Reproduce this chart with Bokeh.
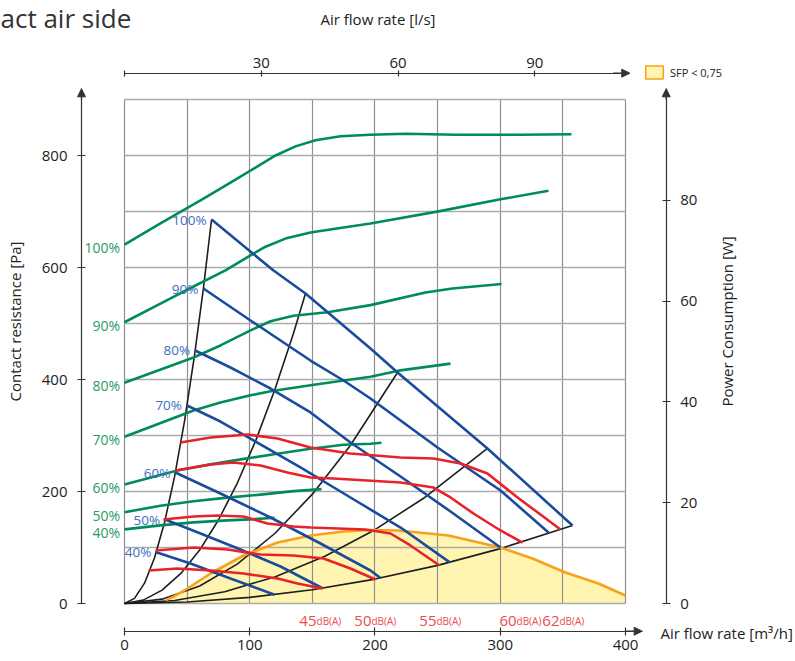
import math
from bokeh.plotting import figure
from bokeh.models import (Range1d, LinearAxis, FixedTicker, Grid, Label, Arrow,
                          NormalHead, Legend, LegendItem)
from bokeh.core.properties import value
from bokeh.embed import file_html
from bokeh.resources import INLINE

# ---------------- data ----------------
airflow_ticks = [0, 100, 200, 300, 400]          # m3/h
airflow_lps_ticks = [0, 30, 60, 90]              # l/s
pressure_ticks = [0, 200, 400, 600, 800]         # Pa
power_ticks = [0, 20, 40, 60, 80]                # W
grid_airflow = [0, 50, 100, 150, 200, 250, 300, 350, 400]
grid_pressure = [0, 100, 200, 300, 400, 500, 600, 700, 800, 900]

speed_labels = ["100%", "90%", "80%", "70%", "60%", "50%", "40%"]

# fan curves (blue): airflow [m3/h] / contact resistance [Pa]
fan100_q = [69.5, 119.0, 144.5, 196.4, 218.0, 289.8, 357.7]
fan100_p = [685.7, 594.6, 553.6, 455.4, 412.5, 276.8, 139.3]
fan90_q = [63.0, 100.6, 122.2, 148.5, 174.9, 196.4, 249.9, 300.2, 338.5]
fan90_p = [562.5, 505.4, 473.2, 433.9, 398.2, 366.1, 278.6, 201.8, 126.8]
fan80_q = [56.4, 84.6, 116.6, 148.5, 180.4, 220.4, 260.3, 300.2]
fan80_p = [451.8, 421.4, 383.9, 341.1, 287.5, 226.8, 164.3, 100.0]
fan70_q = [49.9, 76.6, 103.0, 140.5, 180.4, 220.4, 259.7]
fan70_p = [353.6, 325.0, 291.1, 242.9, 189.3, 135.7, 73.4]
fan60_q = [40.6, 76.6, 116.6, 156.5, 196.4, 204.4]
fan60_p = [233.9, 196.4, 153.6, 107.1, 58.9, 45.5]
fan50_q = [32.5, 60.7, 92.6, 124.6, 158.1]
fan50_p = [150.0, 125.0, 96.4, 66.1, 27.2]
fan40_q = [25.4, 52.7, 84.6, 119.8]
fan40_p = [91.6, 71.4, 44.6, 15.6]

# power consumption curves (green): airflow [m3/h] / power [W]
pow100_q = [0, 28.7, 60.7, 84.6, 104.6, 120.6, 136.5, 152.5, 172.5, 196.4, 224.4, 264.3, 316.2, 356.9]
pow100_w = [71.2, 75.4, 80.0, 83.5, 86.5, 88.9, 90.7, 91.9, 92.7, 93.0, 93.2, 93.0, 93.0, 93.1]
pow90_q = [0, 28.7, 55.1, 80.6, 96.6, 112.6, 128.5, 148.5, 174.9, 196.4, 250.7, 300.2, 338.5]
pow90_w = [55.8, 59.5, 62.9, 66.1, 68.5, 70.8, 72.4, 73.6, 74.6, 75.4, 77.8, 80.2, 81.9]
pow80_q = [0, 55.1, 76.6, 100.6, 116.6, 134.9, 162.0, 196.4, 240.3, 261.8, 301.0]
pow80_w = [43.8, 48.8, 51.2, 54.2, 56.0, 57.1, 57.8, 59.2, 61.7, 62.5, 63.4]
pow70_q = [0, 55.1, 76.6, 100.6, 116.6, 148.5, 196.4, 218.8, 260.3]
pow70_w = [33.1, 38.3, 39.9, 41.3, 42.1, 43.3, 45.0, 46.2, 47.6]
pow60_q = [0, 42.1, 68.7, 95.3, 121.9, 148.5, 174.9, 196.4, 205.2]
pow60_w = [23.6, 26.4, 27.6, 28.7, 29.7, 30.7, 31.5, 31.7, 31.9]
pow50_q = [0, 28.7, 55.1, 82.2, 108.6, 135.2, 157.3]
pow50_w = [18.1, 19.4, 20.3, 21.0, 21.6, 22.3, 22.7]
pow40_q = [0, 28.7, 55.1, 82.2, 100.6, 119.8]
pow40_w = [14.7, 15.5, 16.1, 16.5, 16.7, 17.0]

# system curves (black): airflow [m3/h] / pressure [Pa]
sysA_q = [0, 8, 16, 24, 32, 40, 48, 56, 63, 69.5]
sysA_p = [0, 9.1, 36.3, 81.7, 145.2, 226.9, 326.7, 444.7, 562.8, 685.7]
sysB_q = [0, 15, 30, 45, 60, 75, 90, 105, 120, 135, 144.5]
sysB_p = [0, 6.0, 23.9, 53.7, 95.4, 149.1, 214.7, 292.2, 381.7, 483.1, 553.6]
sysC_q = [0, 30, 60, 90, 120, 150, 180, 218.0]
sysC_p = [0, 7.8, 31.2, 70.3, 125.0, 195.3, 281.2, 412.5]
sysD_q = [0, 40, 80, 120, 160, 200, 240, 289.8]
sysD_p = [0, 5.3, 21.1, 47.5, 84.4, 131.8, 189.8, 276.8]
sysE_q = [0, 50, 100, 150, 200, 250, 300, 357.7]
sysE_p = [0, 2.7, 10.9, 24.5, 43.6, 68.1, 98.0, 139.3]

# sound level curves (red): airflow [m3/h] / pressure [Pa]
sound_levels = ["62", "60", "55", "50", "45"]
snd62_q = [44.7, 68.7, 98.2, 122.2, 148.5, 180.4, 220.4, 246.7, 268.3, 289.8, 313.8, 332.1, 348.1]
snd62_p = [287.5, 296.4, 301.8, 294.6, 278.6, 267.9, 260.7, 258.9, 250.0, 232.1, 189.3, 158.9, 132.1]
snd60_q = [40.7, 68.7, 87.0, 108.6, 130.1, 148.5, 166.9, 220.4, 246.7, 260.3, 278.6, 300.2, 317.8]
snd60_p = [237.5, 248.2, 251.8, 246.4, 233.9, 225.0, 223.2, 216.1, 207.1, 189.3, 160.7, 130.4, 108.9]
snd55_q = [31.1, 55.1, 74.3, 95.0, 114.2, 134.9, 148.5, 192.4, 212.4, 228.3, 251.5]
snd55_p = [150.0, 155.4, 157.1, 155.4, 142.9, 137.5, 135.7, 132.1, 125.0, 103.6, 67.9]
snd50_q = [24.8, 55.1, 82.2, 108.6, 134.9, 158.9, 180.4, 200.4]
snd50_p = [94.6, 100.0, 96.4, 87.5, 85.7, 80.4, 62.5, 42.9]
snd45_q = [19.2, 42.3, 68.7, 95.0, 122.2, 138.1, 158.1]
snd45_p = [58.9, 62.5, 58.9, 53.6, 44.6, 35.7, 26.8]

# SFP < 0,75 limit (orange / yellow area)
sfp_q = [33.0, 40.0, 50.3, 68.7, 95.0, 122.2, 148.5, 174.9, 196.4, 218.8, 258.7, 300.2, 325.7, 352.1, 378.4, 400.0]
sfp_p = [6.0, 13.0, 26.8, 53.6, 85.7, 108.9, 121.4, 128.6, 131.3, 130.4, 121.4, 100.0, 80.4, 55.4, 35.7, 14.3]

LPS_PER_M3H = 3.64   # scale of the l/s axis as drawn
PA_PER_W = 9.0       # 900 Pa on the left axis = 100 W on the right axis

# ---------------- styling ----------------
FONT = "Open Sans"
GREEN, GREEN_TXT = "#008c5a", "#2a9a63"
BLUE, BLUE_TXT = "#1a4c9c", "#3c6ec2"
RED, RED_TXT = "#e8222b", "#e94b4f"
BLACK = "#1e1e1e"
ORANGE, YELLOW = "#f6a21c", "#fff5b1"
AXIS = "#333333"
TXT = "#222222"

W, H = 795, 658
x0, x1 = -99.0, 535.73          # whole canvas in m3/h
y0, y1 = -98.21, 1076.79        # whole canvas in Pa
ax_left, ax_right = -34.33, 432.5     # axis positions (m3/h)
ax_top, ax_bottom = 947.0, -49.46     # axis positions (Pa)

p = figure(frame_width=W, frame_height=H, min_border=0,
           x_range=Range1d(x0, x1), y_range=Range1d(y0, y1),
           x_axis_location=None, y_axis_location=None,
           output_backend="svg", toolbar_location=None)
p.extra_y_ranges = {"power": Range1d(y0 / PA_PER_W, y1 / PA_PER_W)}
p.extra_x_ranges = {"lps": Range1d(x0 / LPS_PER_M3H, x1 / LPS_PER_M3H)}
p.outline_line_color = None
p.background_fill_color = "white"
p.border_fill_color = "white"
for g in p.grid:
    g.visible = False

# grid confined to the data area
try:
    vgrid = Grid(dimension=0, ticker=FixedTicker(ticks=grid_airflow), bounds=(0, 400),
                 cross_bounds=(0, 900), grid_line_color="#8f8f8f", grid_line_width=1.2)
    hgrid = Grid(dimension=1, ticker=FixedTicker(ticks=grid_pressure), bounds=(0, 900),
                 cross_bounds=(0, 400), grid_line_color="#ababab", grid_line_width=1.6)
    p.add_layout(vgrid, "center")
    p.add_layout(hgrid, "center")
except Exception:
    p.segment(x0=grid_airflow, y0=[0] * len(grid_airflow), x1=grid_airflow,
              y1=[900] * len(grid_airflow), line_color="#8f8f8f", line_width=1.2, level="underlay")
    p.segment(x0=[0] * len(grid_pressure), y0=grid_pressure, x1=[400] * len(grid_pressure),
              y1=grid_pressure, line_color="#ababab", line_width=1.6, level="underlay")

# yellow SFP area
p.varea(x=sfp_q, y1=[0] * len(sfp_q), y2=sfp_p, fill_color=YELLOW, level="image")

# system curves
for q, pr in [(sysA_q, sysA_p), (sysB_q, sysB_p), (sysC_q, sysC_p), (sysD_q, sysD_p), (sysE_q, sysE_p)]:
    p.line(q, pr, line_color=BLACK, line_width=1.6, line_join="round")

# SFP line
p.line(sfp_q, sfp_p, line_color=ORANGE, line_width=2.6, line_join="round")

# power curves
power = [(pow100_q, pow100_w), (pow90_q, pow90_w), (pow80_q, pow80_w), (pow70_q, pow70_w),
         (pow60_q, pow60_w), (pow50_q, pow50_w), (pow40_q, pow40_w)]
for q, w in power:
    p.line(q, w, line_color=GREEN, line_width=2.6, line_join="round", y_range_name="power")

# fan curves
fans = [(fan100_q, fan100_p), (fan90_q, fan90_p), (fan80_q, fan80_p), (fan70_q, fan70_p),
        (fan60_q, fan60_p), (fan50_q, fan50_p), (fan40_q, fan40_p)]
for q, pr in fans:
    p.line(q, pr, line_color=BLUE, line_width=2.6, line_join="round")

# sound curves
sounds = [(snd62_q, snd62_p), (snd60_q, snd60_p), (snd55_q, snd55_p), (snd50_q, snd50_p), (snd45_q, snd45_p)]
for q, pr in sounds:
    p.line(q, pr, line_color=RED, line_width=2.6, line_join="round")

# curve labels
p.text(x=[f[0][0] for f in fans], y=[f[1][0] for f in fans], text=speed_labels,
       x_offset=-5, text_align="right", text_baseline="middle",
       text_font=value(FONT), text_font_size="13.5px", text_color=BLUE_TXT)
p.text(x=[w[0][0] for w in power], y=[w[1][0] for w in power], text=speed_labels,
       x_offset=-4.5, y_offset=3, text_align="right", text_baseline="middle",
       text_font=value(FONT), text_font_size="14px", text_color=GREEN_TXT, y_range_name="power")
snd_end = [s[0][-1] for s in sounds]
snd_nudge = [-1, -6, -3, -4, -6]   # px shift of each label from its curve's end
p.text(x=snd_end, y=[-30.4] * len(snd_end), text=sound_levels, x_offset=snd_nudge,
       text_align="right", text_baseline="alphabetic",
       text_font=value(FONT), text_font_size="15px", text_color=RED_TXT)
p.text(x=snd_end, y=[-30.4] * len(snd_end), text=["dB(A)"] * len(snd_end), x_offset=snd_nudge,
       text_align="left", text_baseline="alphabetic",
       text_font=value(FONT), text_font_size="10px", text_color=RED_TXT)

# ---------------- axes (placed at their own positions inside the canvas) ----------------
def style(ax, tin, tout, standoff):
    ax.axis_line_color = AXIS
    ax.axis_line_width = 1.2
    ax.major_tick_line_color = AXIS
    ax.major_tick_line_width = 1.2
    ax.major_tick_in = tin
    ax.major_tick_out = tout
    ax.minor_tick_line_color = None
    ax.major_label_standoff = standoff
    ax.major_label_text_font = FONT
    ax.major_label_text_font_size = "15px"
    ax.major_label_text_color = TXT

left = LinearAxis(ticker=FixedTicker(ticks=pressure_ticks), bounds=(0, 919),
                  fixed_location=ax_left)
style(left, 4, 4, 10)
p.add_layout(left, "left")

right = LinearAxis(y_range_name="power", ticker=FixedTicker(ticks=power_ticks),
                   bounds=(0, 102.1), fixed_location=ax_right)
style(right, 4, 4, 10)
p.add_layout(right, "right")

top = LinearAxis(x_range_name="lps", ticker=FixedTicker(ticks=airflow_lps_ticks),
                 bounds=(0, 110.8), major_label_overrides={0: ""}, fixed_location=ax_top)
style(top, 3, 3, 2)
p.add_layout(top, "above")

bottom = LinearAxis(ticker=FixedTicker(ticks=airflow_ticks), bounds=(0, 413.3),
                    fixed_location=ax_bottom)
style(bottom, 4, 4, 5)
p.add_layout(bottom, "below")

def head():
    return NormalHead(size=8, fill_color=AXIS, line_color=AXIS)

for xs, ys, xe, ye in [(ax_left, 900, ax_left, 919.1), (ax_right, 900, ax_right, 919.1),
                       (390, ax_top, 403.4, ax_top), (400, ax_bottom, 413.3, ax_bottom)]:
    p.add_layout(Arrow(end=head(), x_start=xs, y_start=ys, x_end=xe, y_end=ye,
                       line_color=AXIS, line_width=1.2))

# axis titles and heading
def lab(x, y, text, size="15px", align="center", angle=0.0, color=TXT):
    p.add_layout(Label(x=x, y=y, text=text, text_font=FONT, text_font_size=size,
                       text_color=color, text_align=align, text_baseline="middle", angle=angle))

lab(-99.0, 1046.4, "act air side", size="26px", align="left", color="#333333")
lab(202.4, 1044.6, "Air flow rate [l/s]")
lab(427.9, -51.8, "Air flow rate [m³/h]", align="left")
lab(-87.8, 503.6, "Contact resistance [Pa]", angle=math.pi / 2)
lab(481.4, 503.6, "Power Consumption [W]", angle=math.pi / 2)

# legend (its swatch glyph has one empty point so that only the legend draws it)
nan = float("nan")
swatch = p.quad(left=[nan], right=[nan], top=[nan], bottom=[nan], fill_color=YELLOW,
                line_color=ORANGE, line_width=1.5)
legend = Legend(items=[LegendItem(label="SFP < 0,75", renderers=[swatch])],
                location=(643, 578), glyph_width=22, glyph_height=16, label_height=16,
                label_standoff=5, padding=0, spacing=0, margin=0,
                border_line_alpha=0, background_fill_alpha=0,
                label_text_font=FONT, label_text_font_size="11px", label_text_color=TXT)
p.add_layout(legend, "center")

open("out.html", "w").write(file_html(p, INLINE))
